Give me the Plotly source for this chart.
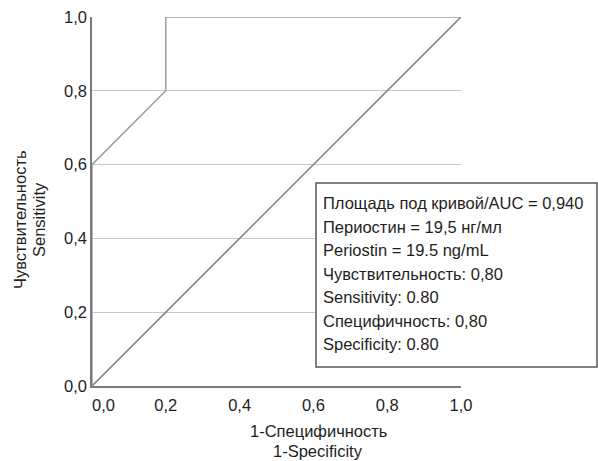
import plotly.graph_objects as go

# ROC curve points (1-specificity, sensitivity)
roc_fpr = [0.0, 0.0, 0.2, 0.2, 1.0]
roc_tpr = [0.0, 0.6, 0.8, 1.0, 1.0]
# reference diagonal
ref_x = [0.0, 1.0]
ref_y = [0.0, 1.0]
tick_vals = [0.0, 0.2, 0.4, 0.6, 0.8, 1.0]
tick_text = ["0,0", "0,2", "0,4", "0,6", "0,8", "1,0"]
box_lines = [
    "Площадь под кривой/AUC = 0,940",
    "Периостин = 19,5 нг/мл",
    "Periostin = 19.5 ng/mL",
    "Чувствительность: 0,80",
    "Sensitivity: 0.80",
    "Специфичность: 0,80",
    "Specificity: 0.80",
]
x_title = ["1-Специфичность", "1-Specificity"]
y_title = ["Чувствительность", "Sensitivity"]

FONT = "Liberation Sans, Arial, sans-serif"
TXT = "#1e1e1e"
FS = 16.5

fig = go.Figure()
fig.add_trace(go.Scatter(x=ref_x, y=ref_y, mode="lines",
                         line=dict(color="#7a7a7a", width=1.5), showlegend=False,
                         hoverinfo="skip"))
fig.add_trace(go.Scatter(x=roc_fpr, y=roc_tpr, mode="lines",
                         line=dict(color="#9c9c9c", width=1.5), showlegend=False,
                         hoverinfo="skip"))

W, H = 598, 461
L, R, T, B = 92, 137, 17, 75
pw = W - L - R
ph = H - T - B


def px(xp):
    return (xp - L) / pw


def py(yp):
    return (H - B - yp) / ph


fig.update_layout(
    width=W, height=H,
    margin=dict(l=L, r=R, t=T, b=B, pad=0, autoexpand=False),
    paper_bgcolor="white", plot_bgcolor="white",
    font=dict(family=FONT, size=FS, color=TXT),
    showlegend=False,
)
fig.update_xaxes(range=[0, 1], tickvals=tick_vals[1:], ticktext=tick_text[1:],
                 showgrid=False, zeroline=False, showline=True, automargin=False,
                 linecolor="#7a7a7a", linewidth=1.5, ticks="", ticklabelstandoff=3,
                 tickfont=dict(size=FS, color=TXT), fixedrange=True)
fig.update_yaxes(range=[0, 1], tickvals=tick_vals, ticktext=tick_text,
                 showgrid=True, gridcolor="#c8c8c8", gridwidth=1, automargin=False,
                 zeroline=False, showline=True,
                 linecolor="#7a7a7a", linewidth=1.5, ticks="",
                 tickfont=dict(size=FS, color=TXT), fixedrange=True)

# x-axis "0,0" label shifted right
fig.add_annotation(xref="paper", yref="paper", x=px(103), y=py(405),
                   xanchor="center", yanchor="middle",
                   text=tick_text[0], showarrow=False,
                   font=dict(size=FS, color=TXT))

# axis titles
for t, yy in zip(x_title, [431, 451]):
    fig.add_annotation(xref="paper", yref="paper", x=px(318), y=py(yy),
                       xanchor="center", yanchor="middle",
                       text=t, showarrow=False, font=dict(size=FS, color=TXT))
for t, xx in zip(y_title, [20, 39]):
    fig.add_annotation(xref="paper", yref="paper", x=px(xx), y=py(220),
                       xanchor="center", yanchor="middle", textangle=-90,
                       text=t, showarrow=False, font=dict(size=FS, color=TXT))

# info box
x0, x1, y0, y1 = 316, 597, 183, 367
fig.add_shape(type="rect", xref="paper", yref="paper",
              x0=px(x0), x1=px(x1), y0=py(y1), y1=py(y0),
              line=dict(color="#555555", width=1.5), fillcolor="white", layer="above")
for i, t in enumerate(box_lines):
    fig.add_annotation(xref="paper", yref="paper", x=px(321), y=py(203 + 23.5 * i),
                       xanchor="left", yanchor="middle", align="left",
                       text=t, showarrow=False, font=dict(size=FS, color=TXT))

fig.write_html("out.html", config={"displayModeBar": False},
               post_script="document.body.style.margin='0px';")
